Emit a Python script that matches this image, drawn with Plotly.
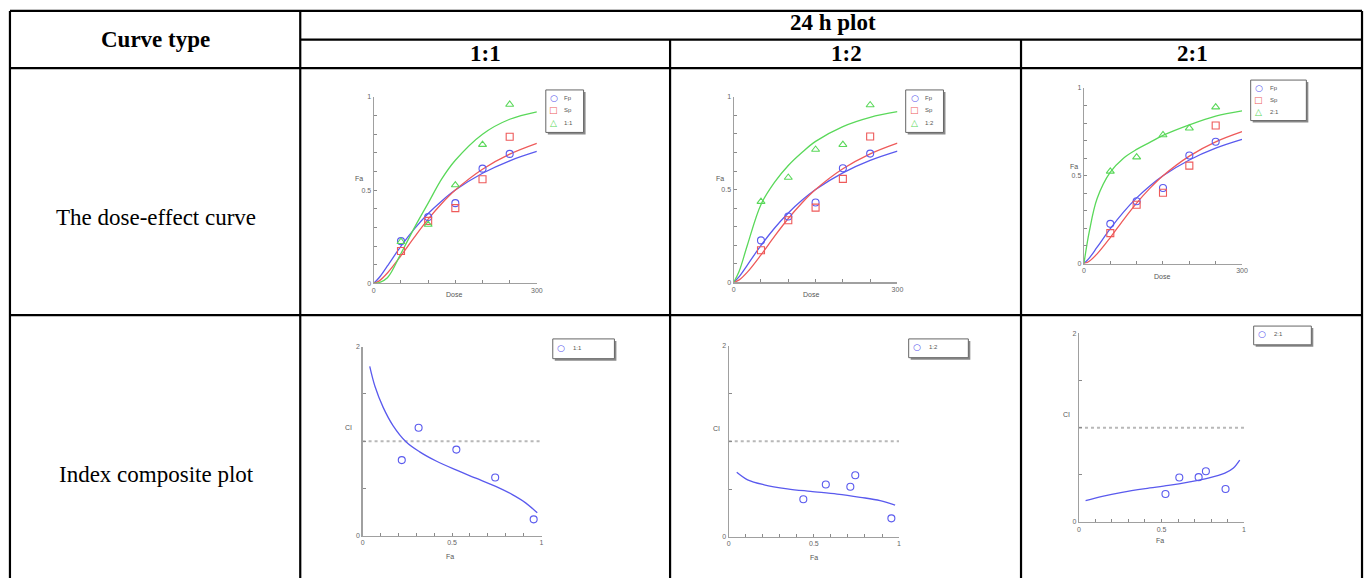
import plotly.graph_objects as go

W, H = 1372, 581

# ---------------- data ----------------
dose = [50, 100, 150, 200, 250]
fp_fa = [0.226, 0.355, 0.43, 0.615, 0.694]
sp_fa = [0.173, 0.335, 0.403, 0.558, 0.786]
mix11_fa = [0.223, 0.315, 0.527, 0.744, 0.959]
mix12_fa = [0.435, 0.565, 0.716, 0.742, 0.956]
mix21_fa = [0.525, 0.606, 0.732, 0.771, 0.891]

curve_dose = [0, 10, 25, 50, 75, 100, 125, 150, 200, 250, 300]
fp_curve = [0, 0.031, 0.093, 0.199, 0.293, 0.374, 0.442, 0.5, 0.59, 0.657, 0.707]
sp_curve = [0, 0.013, 0.055, 0.148, 0.249, 0.344, 0.428, 0.5, 0.612, 0.693, 0.751]
mix11_curve = [0, 0.004, 0.03, 0.16, 0.30, 0.43, 0.56, 0.66, 0.80, 0.88, 0.92]
mix12_curve = [0, 0.06, 0.20, 0.42, 0.54, 0.63, 0.70, 0.76, 0.84, 0.89, 0.92]
mix21_curve = [0, 0.18, 0.37, 0.52, 0.60, 0.65, 0.69, 0.73, 0.79, 0.84, 0.87]

ci11_fa = [0.219, 0.313, 0.524, 0.741, 0.956]
ci11 = [0.80, 1.141, 0.911, 0.616, 0.174]
ci11_curve_fa = [0.04, 0.069, 0.115, 0.17, 0.244, 0.319, 0.411, 0.522, 0.633, 0.744, 0.837, 0.911, 0.976]
ci11_curve = [1.79, 1.58, 1.357, 1.165, 0.991, 0.887, 0.79, 0.696, 0.609, 0.522, 0.435, 0.348, 0.243]

ci12_fa = [0.438, 0.57, 0.714, 0.743, 0.955]
ci12 = [0.393, 0.548, 0.524, 0.645, 0.193]
ci12_curve_fa = [0.047, 0.111, 0.208, 0.344, 0.48, 0.636, 0.772, 0.889, 0.977]
ci12_curve = [0.676, 0.597, 0.545, 0.503, 0.476, 0.448, 0.414, 0.379, 0.331]

ci21_fa = [0.524, 0.608, 0.725, 0.769, 0.888]
ci21 = [0.297, 0.471, 0.475, 0.538, 0.349]
ci21_curve_fa = [0.04, 0.141, 0.261, 0.402, 0.542, 0.663, 0.783, 0.884, 0.934, 0.974]
ci21_curve = [0.227, 0.272, 0.314, 0.353, 0.387, 0.422, 0.464, 0.517, 0.569, 0.656]

ci_ref_fa = [0, 1]
ci_ref = [1, 1]

ratios = ["1:1", "1:2", "2:1"]
row_labels = ["The dose-effect curve", "Index composite plot"]

BLUE = "#5a5aee"
RED = "#ee5a5a"
GREEN = "#5ad85a"


def fx(px):
    return px / W


def fy(py):
    return 1 - py / H


fig = go.Figure()

# plot boxes (px) and legend boxes (px: x0, x1, y0, y1, symbol x, text x, item ys)
dose_plots = [
    (mix11_fa, mix11_curve, "1:1", (374, 538, 94, 282.7), (547, 585, 87, 130, 555, 563, [95, 107.5, 120])),
    (mix12_fa, mix12_curve, "1:2", (736, 900.7, 94, 281.7), (909, 947, 87, 130, 918, 926, [95, 107.5, 120])),
    (mix21_fa, mix21_curve, "2:1", (1088.3, 1247.3, 85, 262.7), (1256, 1312, 77, 118, 1264, 1273, [85, 97, 109])),
]
ci_plots = [
    (ci11_fa, ci11, ci11_curve_fa, ci11_curve, "1:1", (362.7, 542.7, 346.7, 538.3), (554, 616, 339, 359, 562, 572, [348])),
    (ci12_fa, ci12, ci12_curve_fa, ci12_curve, "1:2", (731, 902.3, 346, 539.3), (912, 972, 339, 358, 920, 930, [347])),
    (ci21_fa, ci21, ci21_curve_fa, ci21_curve, "2:1", (1083.3, 1249.3, 333.3, 524.3), (1259, 1317, 326, 345, 1267, 1277, [334])),
]

axis_common = dict(
    showline=True, linecolor="#a0a0a0", linewidth=1.2, showgrid=False, zeroline=False,
    ticks="inside", ticklen=3, tickcolor="#8a8a8a", tickfont=dict(size=7, color="#666",
    family="Liberation Sans"), fixedrange=True,
)

layout_axes = {}
annotations = []
shapes = []
small = dict(size=7, color="#555", family="Liberation Sans")


def add_legend(box, items):
    x0, x1, y0, y1, sx, tx, ys = box
    # shadow then frame
    shapes.append(dict(type="rect", xref="paper", yref="paper", x0=fx(x0 + 2), x1=fx(x1 + 2), y0=fy(y1 + 2),
                       y1=fy(y0 + 2), line=dict(width=0), fillcolor="#8a8a8a", layer="above"))
    shapes.append(dict(type="rect", xref="paper", yref="paper", x0=fx(x0), x1=fx(x1), y0=fy(y1), y1=fy(y0),
                       line=dict(color="#666", width=1), fillcolor="white", layer="above"))
    for yy, (glyph, col, label) in zip(ys, items):
        annotations.append(dict(x=fx(sx), y=fy(yy), xref="paper", yref="paper", text=glyph, showarrow=False,
                                font=dict(size=9, color=col, family="DejaVu Sans"), xanchor="center",
                                yanchor="middle"))
        annotations.append(dict(x=fx(tx), y=fy(yy), xref="paper", yref="paper", text=label, showarrow=False,
                                font=dict(size=6, color="#555", family="Liberation Sans"), xanchor="left",
                                yanchor="middle"))


idx = 0
for mix_fa, mix_curve, name, box, leg in dose_plots:
    idx += 1
    xa = "x" if idx == 1 else f"x{idx}"
    ya = "y" if idx == 1 else f"y{idx}"
    x0, x1, y0, y1 = box
    layout_axes["xaxis" if idx == 1 else f"xaxis{idx}"] = dict(
        axis_common, domain=[fx(x0), fx(x1)], anchor=ya, range=[0, 300],
        tickvals=[0, 50, 100, 150, 200, 250, 300], ticktext=["0", "", "", "", "", "", "300"])
    layout_axes["yaxis" if idx == 1 else f"yaxis{idx}"] = dict(
        axis_common, domain=[fy(y1), fy(y0)], anchor=xa, range=[0, 1],
        tickvals=[i / 10 for i in range(11)],
        ticktext=["0", "", "", "", "", "0.5", "", "", "", "", "1"])
    for yc, col in ((fp_curve, BLUE), (sp_curve, RED), (mix_curve, GREEN)):
        fig.add_trace(go.Scatter(x=curve_dose, y=yc, mode="lines", line=dict(color=col, width=1.3, shape="spline"),
                                 xaxis=xa, yaxis=ya, showlegend=False, hoverinfo="skip"))
    for yv, col, sym, nm in ((fp_fa, BLUE, "circle-open", "Fp"), (sp_fa, RED, "square-open", "Sp"),
                             (mix_fa, GREEN, "triangle-up-open", name)):
        fig.add_trace(go.Scatter(x=dose, y=yv, mode="markers", name=nm, showlegend=False,
                                 marker=dict(color=col, symbol=sym, size=7, line=dict(width=1.1)),
                                 xaxis=xa, yaxis=ya, cliponaxis=False))
    add_legend(leg, [("○", BLUE, "Fp"), ("□", RED, "Sp"), ("△", GREEN, name)])

for fa_pts, ci_pts, cfa, cci, name, box, leg in ci_plots:
    idx += 1
    xa = f"x{idx}"
    ya = f"y{idx}"
    x0, x1, y0, y1 = box
    layout_axes[f"xaxis{idx}"] = dict(
        axis_common, domain=[fx(x0), fx(x1)], anchor=ya, range=[0, 1],
        tickvals=[i / 10 for i in range(11)],
        ticktext=["0", "", "", "", "", "0.5", "", "", "", "", "1"])
    layout_axes[f"yaxis{idx}"] = dict(
        axis_common, domain=[fy(y1), fy(y0)], anchor=xa, range=[0, 2],
        tickvals=[0, 0.5, 1, 1.5, 2], ticktext=["0", "", "", "", "2"])
    fig.add_trace(go.Scatter(x=ci_ref_fa, y=ci_ref, mode="lines", line=dict(color="#b8b8b8", width=2, dash="dot"),
                             xaxis=xa, yaxis=ya, showlegend=False, hoverinfo="skip"))
    fig.add_trace(go.Scatter(x=cfa, y=cci, mode="lines", line=dict(color=BLUE, width=1.3, shape="spline"),
                             xaxis=xa, yaxis=ya, showlegend=False, hoverinfo="skip"))
    fig.add_trace(go.Scatter(x=fa_pts, y=ci_pts, mode="markers", name=name, showlegend=False,
                             marker=dict(color=BLUE, symbol="circle-open", size=7, line=dict(width=1.1)),
                             xaxis=xa, yaxis=ya, cliponaxis=False))
    add_legend(leg, [("○", BLUE, name)])

# axis titles
for (tx, ty, t) in [(455, 294, "Dose"), (814, 294, "Dose"), (1167, 276, "Dose"),
                    (359, 177, "Fa"), (722, 177, "Fa"), (1078, 164, "Fa"),
                    (451, 559, "Fa"), (817, 560, "Fa"), (1165, 543, "Fa"),
                    (349, 429, "CI"), (719, 430, "CI"), (1071, 416, "CI")]:
    annotations.append(dict(x=fx(tx), y=fy(ty), xref="paper", yref="paper", text=t, showarrow=False,
                            font=small, xanchor="center", yanchor="middle"))

# ---------------- table ----------------
serif = "Liberation Serif, Times New Roman, serif"
head = dict(family=serif, size=23, color="black")
annotations.append(dict(x=fx(154), y=fy(36), xref="paper", yref="paper", text="<b>Curve type</b>",
                        showarrow=False, font=head, xanchor="center", yanchor="middle"))
annotations.append(dict(x=fx(836), y=fy(19), xref="paper", yref="paper", text="<b>24 h plot</b>",
                        showarrow=False, font=head, xanchor="center", yanchor="middle"))
for cx, r in zip([486, 849, 1197], ratios):
    annotations.append(dict(x=fx(cx), y=fy(50), xref="paper", yref="paper", text=f"<b>{r}</b>",
                            showarrow=False, font=head, xanchor="center", yanchor="middle"))
for cy, t in zip([216, 476], row_labels):
    annotations.append(dict(x=fx(155), y=fy(cy), xref="paper", yref="paper", text=t,
                            showarrow=False, font=dict(family=serif, size=23, color="black"),
                            xanchor="center", yanchor="middle"))

LW = 2.2


def hline(y, xa, xb):
    shapes.append(dict(type="line", xref="paper", yref="paper", x0=fx(xa), x1=fx(xb), y0=fy(y), y1=fy(y),
                       line=dict(color="black", width=LW)))


def vline(x, ya, yb):
    shapes.append(dict(type="line", xref="paper", yref="paper", x0=fx(x), x1=fx(x), y0=fy(ya), y1=fy(yb),
                       line=dict(color="black", width=LW)))


hline(7, 8, 1368)
hline(36, 300, 1368)
hline(65, 8, 1368)
hline(315, 8, 1368)
vline(8, 7, 581)
vline(1368, 7, 581)
vline(300, 7, 581)
vline(672, 36, 581)
vline(1025, 36, 581)

fig.update_layout(
    width=W, height=H, margin=dict(l=0, r=0, t=0, b=0),
    paper_bgcolor="white", plot_bgcolor="rgba(0,0,0,0)",
    annotations=annotations, shapes=shapes, **layout_axes,
)

fig.write_html(
    "out.html",
    config={"displayModeBar": False, "staticPlot": True},
    post_script=("document.documentElement.style.margin='0px';document.documentElement.style.padding='0px';"
                 "document.documentElement.style.overflow='hidden';"
                 "document.body.style.margin='0px';document.body.style.padding='0px';"
                 "document.body.style.overflow='hidden';"),
)
